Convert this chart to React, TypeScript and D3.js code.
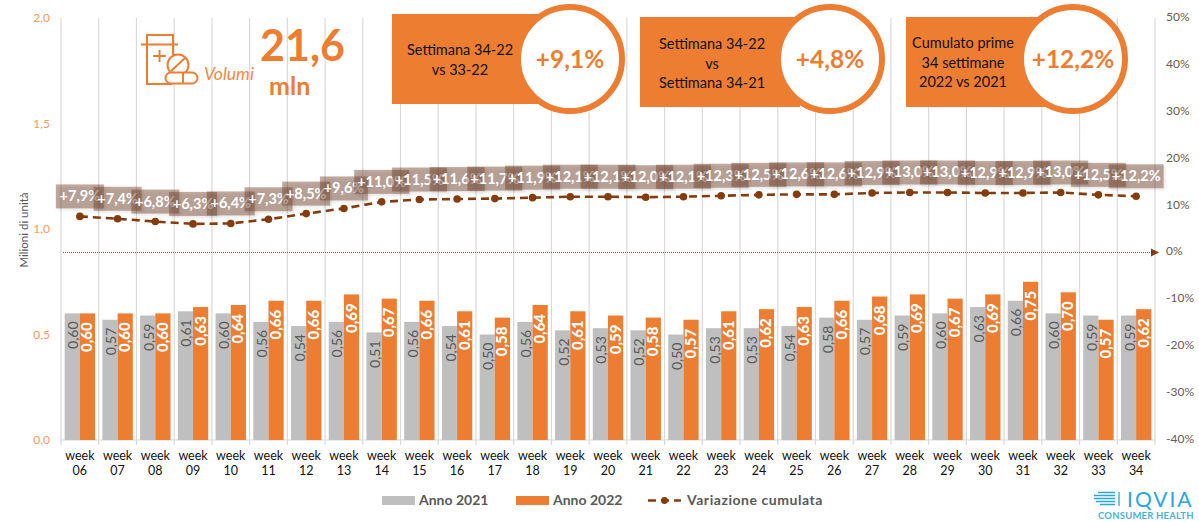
import React from "react";
import * as d3 from "d3";

const weeks = ["06","07","08","09","10","11","12","13","14","15","16","17","18","19","20","21","22","23","24","25","26","27","28","29","30","31","32","33","34"];
const anno2021 = [0.60,0.57,0.59,0.61,0.60,0.56,0.54,0.56,0.51,0.56,0.54,0.50,0.56,0.52,0.53,0.52,0.50,0.53,0.53,0.54,0.58,0.57,0.59,0.60,0.63,0.66,0.60,0.59,0.59];
const anno2022 = [0.60,0.60,0.60,0.63,0.64,0.66,0.66,0.69,0.67,0.66,0.61,0.58,0.64,0.61,0.59,0.58,0.57,0.61,0.62,0.63,0.66,0.68,0.69,0.67,0.69,0.75,0.70,0.57,0.62];
const variazione = [7.9,7.4,6.8,6.3,6.4,7.3,8.5,9.6,11.0,11.5,11.6,11.7,11.9,12.1,12.1,12.0,12.1,12.3,12.5,12.6,12.6,12.9,13.0,13.0,12.9,12.9,13.0,12.5,12.2];
const leftTicks = [0, 0.5, 1, 1.5, 2];
const rightTicks = [-40,-30,-20,-10,0,10,20,30,40,50];

const FONT = "Lato, 'Open Sans', sans-serif";
const ORANGE = "#ED7D31";
const GREY = "#BFBFBF";
const BROWN = "#843C0C";

const it = (n: number, d: number) => n.toFixed(d).replace(".", ",");

export default function App() {
  const x = d3.scaleBand<string>().domain(weeks).range([61, 1155]);
  const y = d3.scaleLinear().domain([0, 2]).range([440, 18]);
  const yR = d3.scaleLinear().domain([-40, 50]).range([440, 18]);
  const bw = x.bandwidth();
  const cx = (i: number) => (x(weeks[i]) as number) + bw / 2;
  const barW = 15.2;
  const line = d3.line<number>().x((_, i) => cx(i)).y((d) => yR(d) + 1);
  const grid = d3.range(weeks.length + 1).map((i) => 61 + i * bw);

  const callouts = [
    { bx: 392, by: 14, bw: 160, c: 570, val: "+9,1%", tx: 460, lines: [["Settimana 34-22", 55], ["vs 33-22", 75]] },
    { bx: 640, by: 17, bw: 160, c: 830, val: "+4,8%", tx: 712, lines: [["Settimana 34-22", 49], ["vs", 69], ["Settimana 34-21", 88]] },
    { bx: 906, by: 17, bw: 140, c: 1073, val: "+12,2%", tx: 963, lines: [["Cumulato prime", 48], ["34 settimane", 68], ["2022 vs 2021", 87]] },
  ];

  return (
    <svg width={1199} height={522} style={{ position: "absolute", left: 0, top: 0, fontFamily: FONT }}>
      <defs>
        <filter id="sh" x="-20%" y="-30%" width="150%" height="170%">
          <feDropShadow dx="1.5" dy="1.5" stdDeviation="1.5" floodColor="#000" floodOpacity="0.25" />
        </filter>
        <marker id="arr" markerUnits="userSpaceOnUse" markerWidth="9" markerHeight="9" refX="1" refY="4" orient="auto">
          <path d="M0,0L8,4L0,8Z" fill={BROWN} />
        </marker>
      </defs>
      <rect width={1199} height={522} fill="#fff" />

      {grid.map((g, i) => (
        <line key={i} x1={g} x2={g} y1={18} y2={445} stroke="#D9D9D9" strokeWidth={1.2} />
      ))}
      <line x1={61} x2={1155} y1={440} y2={440} stroke="#D9D9D9" strokeWidth={1.2} />

      {leftTicks.map((t) => (
        <text key={t} x={50} y={y(t) + 4} textAnchor="end" fontSize={12} fill="#F79A5C">{it(t, 1)}</text>
      ))}
      {rightTicks.map((t) => (
        <text key={t} x={1166} y={yR(t) + 3} fontSize={12} fill="#6E5A4E">{t}%</text>
      ))}
      <text transform="translate(28,230) rotate(-90)" textAnchor="middle" fontSize={11.5} fill="#595959">Milioni di unità</text>

      {weeks.map((w, i) => (
        <g key={w} textAnchor="middle" fontSize={12.5} fill="#111">
          <text x={cx(i)} y={460}>week</text>
          <text x={cx(i)} y={475}>{w}</text>
        </g>
      ))}

      {weeks.map((w, i) => (
        <g key={w}>
          <rect x={cx(i) - barW} y={y(anno2021[i])} width={barW} height={440 - y(anno2021[i])} fill={GREY} />
          <rect x={cx(i)} y={y(anno2022[i])} width={barW} height={440 - y(anno2022[i])} fill={ORANGE} />
          <text transform={`translate(${cx(i) - barW / 2 + 6},${y(anno2021[i]) + 8}) rotate(-90)`} textAnchor="end" fontSize={14} fill="#595959">{it(anno2021[i], 2)}</text>
          <text transform={`translate(${cx(i) + barW / 2 + 5},${y(anno2022[i]) + 9}) rotate(-90)`} textAnchor="end" fontSize={15} fontWeight={900} fill="#fff">{it(anno2022[i], 2)}</text>
        </g>
      ))}

      <line x1={63} x2={1152} y1={yR(0)} y2={yR(0)} stroke="#5A3A25" strokeWidth={0.8} strokeDasharray="1 1" markerEnd="url(#arr)" />

      <path d={line(variazione) as string} fill="none" stroke={BROWN} strokeWidth={2.6} strokeDasharray="8 5" />
      {variazione.map((v, i) => (
        <circle key={i} cx={cx(i)} cy={yR(v) + 1} r={3.8} fill={BROWN} />
      ))}

      {variazione.map((v, i) => {
        const label = `+${it(v, 1)}%`;
        const w = label.length > 5 ? 55 : 48;
        const cy = yR(v) - 19;
        return (
          <g key={i}>
            <rect x={cx(i) - w / 2} y={cy - 12} width={w} height={24} fill="#6F3F25" fillOpacity={0.42} filter="url(#sh)" />
            <text x={cx(i)} y={cy + 5} textAnchor="middle" fontSize={14.5} fontWeight={700} fill="#fff">{label}</text>
          </g>
        );
      })}

      {/* icon and headline */}
      <g fill="none" stroke={ORANGE} strokeWidth={2}>
        <path d="M173,58V35H147V84H172" />
        <path d="M141,44.5H178" />
        <path d="M153,56H166M159.5,50V62" />
        <circle cx={178} cy={65} r={10.5} fill="#fff" />
        <path d="M171,71L185,58" />
        <rect x={165.5} y={72.5} width={32} height={11} rx={5.5} fill="#fff" />
        <path d="M183,72.5V83.5" />
      </g>
      <text x={204} y={80} fontSize={17.5} fontStyle="italic" fill="#F08A45">Volumi</text>
      <text x={260} y={61} fontSize={43} fontWeight={700} fill={ORANGE}>21,6</text>
      <text x={269} y={95} fontSize={25} fontWeight={700} fill={ORANGE}>mln</text>

      {callouts.map((c) => (
        <g key={c.val}>
          <rect x={c.bx} y={c.by} width={c.bw} height={90} fill={ORANGE} />
          {c.lines.map(([t, by]) => (
            <text key={t as string} x={c.tx} y={by as number} textAnchor="middle" fontSize={14.5} fill="#111">{t}</text>
          ))}
          <circle cx={c.c} cy={59} r={52} fill="#fff" stroke={ORANGE} strokeWidth={6} />
          <text x={c.c} y={68} textAnchor="middle" fontSize={24.5} fontWeight={700} fill={ORANGE}>{c.val}</text>
        </g>
      ))}

      {/* legend */}
      <rect x={382} y={496} width={33} height={9} fill={GREY} />
      <text x={419} y={505} fontSize={14} fontWeight={700} fill="#595959">Anno 2021</text>
      <rect x={516} y={496} width={33} height={9} fill={ORANGE} />
      <text x={553} y={505} fontSize={14} fontWeight={700} fill="#595959">Anno 2022</text>
      <line x1={648} x2={681} y1={500.5} y2={500.5} stroke={BROWN} strokeWidth={2.4} strokeDasharray="8 5" />
      <circle cx={664.5} cy={500.5} r={3.4} fill={BROWN} />
      <text x={687} y={505} fontSize={14} fontWeight={700} fill="#595959" letterSpacing={0.55}>Variazione cumulata</text>

      {/* logo */}
      <g stroke="#2AA6DC" strokeWidth={1.3}>
        <path d="M1098,492.5H1115M1094,495.5H1115M1094,498.5H1115M1096,501.5H1115M1100,504.5H1115" />
        <path d="M1119,492V506" />
      </g>
      <text x={1127} y={507} fontSize={21} fill="#2AA6DC" letterSpacing={2}>IQVIA</text>
      <text x={1098} y={519} fontSize={9.5} fontWeight={700} fill="#45B3E0" letterSpacing={0.2}>CONSUMER HEALTH</text>
    </svg>
  );
}
